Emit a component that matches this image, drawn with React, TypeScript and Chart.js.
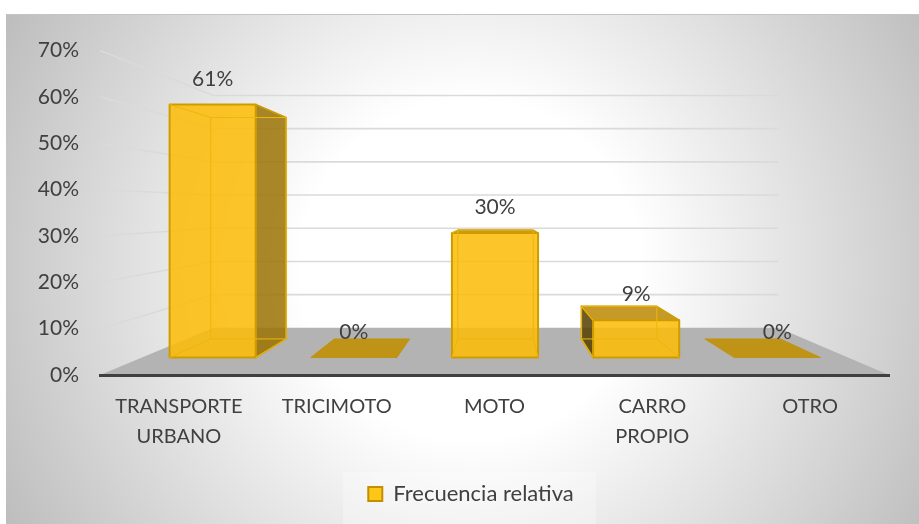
import React, { useEffect, useRef } from "react";
import { Chart, registerables } from "chart.js";

Chart.register(...registerables);

const categories: (string | string[])[] = [["TRANSPORTE", "URBANO"], "TRICIMOTO", "MOTO", ["CARRO", "PROPIO"], "OTRO"];
const seriesName = "Frecuencia relativa";
const frecuencia = [61, 0, 30, 9, 0];
const FONT = "Lato";
const TEXT = "#404040";

// perspective of the 3D box: vanishing point and depth factors
const VP_FX = 0.506; // fraction of the plot width
const VP_FY = 0.488; // fraction of the plot height
const S_BACK = 0.716; // back wall
const S_BAR_F = 0.8946; // bar front face
const S_BAR_B = 0.783; // bar back face

function projector(chart: any) {
  const a = chart.chartArea;
  const vx = a.left + (a.right - a.left) * VP_FX;
  const vy = a.top + (a.bottom - a.top) * VP_FY;
  return (x: number, y: number, s: number) => [vx + (x - vx) * s, vy + (y - vy) * s] as [number, number];
}

function poly(ctx: CanvasRenderingContext2D, pts: [number, number][], fill?: string, stroke?: string, lw = 1.5) {
  ctx.beginPath();
  pts.forEach((p, i) => (i ? ctx.lineTo(p[0], p[1]) : ctx.moveTo(p[0], p[1])));
  ctx.closePath();
  if (fill) {
    ctx.fillStyle = fill;
    ctx.fill();
  }
  if (stroke) {
    ctx.strokeStyle = stroke;
    ctx.lineWidth = lw;
    ctx.lineJoin = "round";
    ctx.stroke();
  }
}

const box3d = {
  id: "box3d",
  afterLayout(chart: any) {
    // legend sits right of the centre of the frame
    chart.legend.left += 13;
    chart.legend.right += 13;
    chart.legend.top += 1;
    chart.legend.bottom += 1;
  },
  beforeDraw(chart: any) {
    const { ctx, chartArea: a, scales, width, height } = chart;
    const P = projector(chart);
    ctx.save();
    ctx.fillStyle = "#fff";
    ctx.fillRect(0, 0, width, height);
    const g = ctx.createRadialGradient(470, 270, 170, 470, 270, 530);
    g.addColorStop(0, "#ffffff");
    g.addColorStop(1, "#bdbdbd");
    ctx.fillStyle = g;
    ctx.fillRect(6, 15, width - 6, height - 15);
    ctx.strokeStyle = "#c4c4c4";
    ctx.lineWidth = 1;
    ctx.beginPath();
    ctx.moveTo(6, 14.5);
    ctx.lineTo(width, 14.5);
    ctx.stroke();
    // legend backdrop
    ctx.fillStyle = "rgba(255,255,255,0.28)";
    ctx.fillRect(343, 472, 253, 52);

    // floor
    poly(ctx, [[a.left, a.bottom], P(a.left, a.bottom, S_BACK), P(a.right, a.bottom, S_BACK), [a.right, a.bottom]], "#b3b3b3");

    // gridlines on the side wall and the back wall
    const ys = scales.y;
    ctx.strokeStyle = "#dadada";
    ctx.lineWidth = 1.6;
    ys.ticks.forEach((t: any) => {
      if (t.value === 0) return;
      const y = ys.getPixelForValue(t.value);
      const p = P(a.left, y, S_BACK);
      const q = P(a.right, y, S_BACK);
      ctx.beginPath();
      ctx.moveTo(a.left, y);
      ctx.lineTo(p[0], p[1]);
      ctx.lineTo(q[0], q[1]);
      ctx.stroke();
    });
    ctx.restore();
  },
  beforeDatasetDraw(chart: any, args: any) {
    const { ctx, chartArea: a } = chart;
    const P = projector(chart);
    const meta = chart.getDatasetMeta(args.index);
    const yBase = a.bottom;
    ctx.save();
    meta.data.forEach((el: any) => {
      const l = el.x - el.width / 2;
      const r = el.x + el.width / 2;
      const t = el.y;
      const fb = P(l, yBase, S_BAR_F), fbr = P(r, yBase, S_BAR_F);
      const ft = P(l, t, S_BAR_F), ftr = P(r, t, S_BAR_F);
      const bb = P(l, yBase, S_BAR_B), bbr = P(r, yBase, S_BAR_B);
      const bt = P(l, t, S_BAR_B), btr = P(r, t, S_BAR_B);
      const EDGE = "#cf9c00";
      if (Math.abs(t - yBase) < 0.5) {
        poly(ctx, [fb, fbr, bbr, bb], "#bf9416", "#bf9416", 1);
        return;
      }
      // inner faces
      poly(ctx, [bb, bbr, fbr, fb], "rgba(190,140,0,0.22)");
      // visible side faces
      if (btr[0] > ftr[0]) poly(ctx, [ftr, btr, bbr, fbr], "rgba(155,115,5,0.85)", EDGE);
      if (bt[0] < ft[0]) poly(ctx, [ft, bt, bb, fb], "rgba(85,62,0,0.85)", EDGE);
      if (bt[1] < ft[1]) poly(ctx, [ft, ftr, btr, bt], "rgba(190,140,10,0.88)", EDGE);
      // front face
      poly(ctx, [ft, ftr, fbr, fb], "rgba(252,190,10,0.87)", EDGE, 2);
      // edges seen through the front
      ctx.strokeStyle = "#ecb60c";
      ctx.lineWidth = 1;
      ctx.beginPath();
      ctx.moveTo(bt[0], bt[1]);
      ctx.lineTo(bb[0], bb[1]);
      ctx.moveTo(btr[0], btr[1]);
      ctx.lineTo(bbr[0], bbr[1]);
      ctx.moveTo(bb[0], bb[1]);
      ctx.lineTo(fb[0], fb[1]);
      ctx.moveTo(bbr[0], bbr[1]);
      ctx.lineTo(fbr[0], fbr[1]);
      ctx.moveTo(bb[0], bb[1]);
      ctx.lineTo(bbr[0], bbr[1]);
      ctx.moveTo(ft[0], ft[1]);
      ctx.lineTo(bt[0], bt[1]);
      ctx.lineTo(btr[0], btr[1]);
      ctx.stroke();
    });
    ctx.restore();
    return false;
  },
  afterDatasetsDraw(chart: any) {
    const { ctx } = chart;
    const P = projector(chart);
    const meta = chart.getDatasetMeta(0);
    ctx.save();
    ctx.font = `21px ${FONT}`;
    ctx.fillStyle = TEXT;
    ctx.textAlign = "center";
    ctx.textBaseline = "middle";
    meta.data.forEach((el: any, i: number) => {
      const p = P(el.x, el.y, S_BAR_F);
      ctx.fillText(`${frecuencia[i]}%`, p[0], p[1] - 25.5);
    });
    ctx.restore();
  },
};

export default function App() {
  const ref = useRef<HTMLCanvasElement | null>(null);
  useEffect(() => {
    const chart = new Chart(ref.current as HTMLCanvasElement, {
      type: "bar",
      data: {
        labels: categories as any,
        datasets: [
          {
            label: seriesName,
            data: frecuencia,
            backgroundColor: "#FFC61A",
            borderColor: "#C09000",
            borderWidth: 2,
            barPercentage: 0.61,
            categoryPercentage: 1,
          },
        ],
      },
      options: {
        responsive: false,
        animation: false,
        layout: { padding: { left: 27, right: 30, top: 50.5, bottom: 10 } },
        plugins: {
          tooltip: { enabled: false },
          legend: {
            position: "bottom",
            labels: {
              boxWidth: 14,
              boxHeight: 14,
              padding: 10,
              color: TEXT,
              font: { family: FONT, size: 22 },
            },
          },
        },
        scales: {
          x: {
            afterFit: (s: any) => {
              s.height = 97;
            },
            grid: { display: false, drawTicks: false },
            border: { display: true, color: "#404040", width: 3 },
            ticks: {
              maxRotation: 0,
              autoSkip: false,
              padding: 17,
              color: TEXT,
              font: { family: FONT, size: 20, lineHeight: 1.5 },
            },
          },
          y: {
            min: 0,
            max: 70,
            afterFit: (s: any) => {
              s.width = 73;
            },
            grid: { display: false, drawTicks: false },
            border: { display: false },
            ticks: {
              stepSize: 10,
              padding: 21,
              color: TEXT,
              font: { family: FONT, size: 21 },
              callback: (v: any) => `${v}%`,
            },
          },
        },
      } as any,
      plugins: [box3d as any],
    });
    return () => chart.destroy();
  }, []);
  return <canvas ref={ref} width={919} height={524} style={{ position: "fixed", left: 0, top: 0, display: "block" }} />;
}
